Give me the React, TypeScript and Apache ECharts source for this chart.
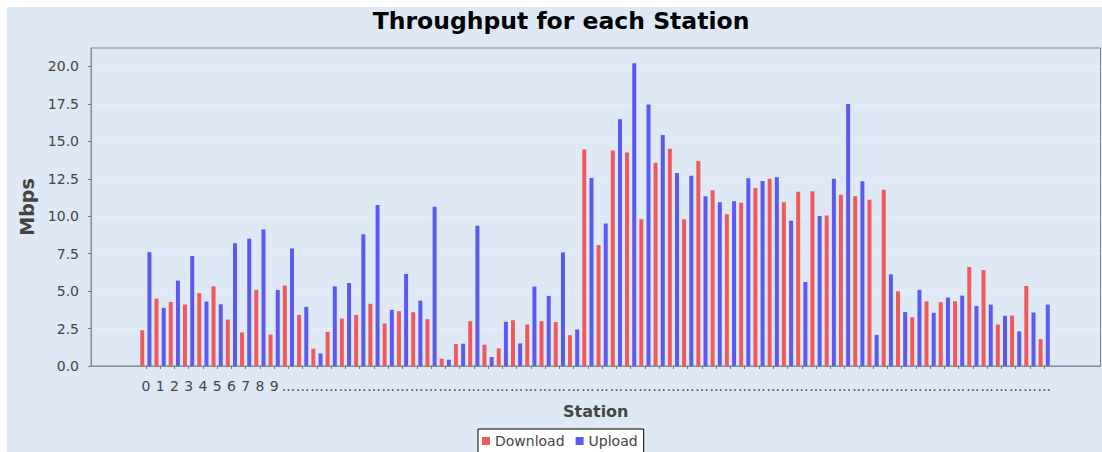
import React, { useEffect, useRef } from "react";
import * as echarts from "echarts";

const stations: string[] = Array.from({ length: 64 }, (_, i) => String(i));

const download: number[] = [
  2.39, 4.5, 4.28, 4.1, 4.86, 5.32, 3.1, 2.24, 5.08, 2.1,
  5.37, 3.41, 1.15, 2.28, 3.17, 3.41, 4.15, 2.84, 3.66, 3.59,
  3.13, 0.49, 1.46, 2.99, 1.42, 1.18, 3.06, 2.77, 2.99, 2.93,
  2.06, 14.46, 8.07, 14.39, 14.26, 9.8, 13.57, 14.5, 9.8, 13.68,
  11.73, 10.13, 10.9, 11.88, 12.5, 10.93, 11.64, 11.66, 10.04, 11.44,
  11.33, 11.1, 11.77, 4.99, 3.26, 4.32, 4.26, 4.32, 6.61, 6.41,
  2.77, 3.37, 5.34, 1.8,
];

const upload: number[] = [
  7.6, 3.88, 5.7, 7.34, 4.3, 4.12, 8.2, 8.5, 9.11, 5.08,
  7.85, 3.95, 0.84, 5.32, 5.54, 8.8, 10.75, 3.75, 6.14, 4.37,
  10.64, 0.42, 1.49, 9.36, 0.6, 2.95, 1.51, 5.3, 4.68, 7.58,
  2.44, 12.55, 9.51, 16.47, 20.22, 17.45, 15.43, 12.88, 12.7, 11.33,
  10.93, 11.0, 12.53, 12.35, 12.6, 9.69, 5.61, 10.02, 12.5, 17.49,
  12.33, 2.08, 6.12, 3.61, 5.08, 3.55, 4.57, 4.7, 4.01, 4.1,
  3.35, 2.31, 3.57, 4.1,
];

const yMax = 21.23;
const yInterval = 2.5;

const FONT = "DejaVu Sans";
const BG = "#dee9f5";

export default function App() {
  const ref = useRef<HTMLDivElement>(null);

  useEffect(() => {
    if (!ref.current) return;
    const chart = echarts.init(ref.current, undefined, { renderer: "svg" });
    chart.setOption({
      animation: false,
      backgroundColor: BG,
      textStyle: { fontFamily: FONT },
      title: {
        text: "Throughput for each Station",
        left: 554,
        textAlign: "center",
        top: 2,
        padding: 0,
        textStyle: { fontFamily: FONT, fontWeight: "bold", fontSize: 23.5, color: "#000" },
      },
      legend: {
        data: ["Download", "Upload"],
        left: 471,
        top: 422,
        orient: "horizontal",
        backgroundColor: "#ffffff",
        borderColor: "#000000",
        borderWidth: 1,
        borderRadius: 0,
        padding: [5, 6, 5, 4],
        itemWidth: 8,
        itemHeight: 8,
        itemGap: 11,
        icon: "rect",
        textStyle: { fontFamily: FONT, fontSize: 14, color: "#444" },
      },
      grid: [
        { left: 84, top: 41, right: 1.5, bottom: 86, show: true, borderColor: "#7f848a", borderWidth: 1, backgroundColor: "transparent" },
        { left: 131.7, top: 41, right: 50.7, bottom: 86, show: false },
      ],
      xAxis: [
        {
          type: "value",
          gridIndex: 0,
          min: 0,
          max: 1,
          offset: 5,
          name: "Station",
          nameLocation: "middle",
          nameGap: 32,
          nameTextStyle: { fontFamily: FONT, fontWeight: "bold", fontSize: 16, color: "#444" },
          axisLine: { show: true, lineStyle: { color: "#8a8f95", width: 1 } },
          axisTick: { show: false },
          axisLabel: { show: false },
          splitLine: { show: false },
        },
        {
          type: "category",
          gridIndex: 1,
          data: stations,
          offset: 5,
          axisLine: { show: false },
          axisTick: { show: true, alignWithLabel: true, length: 3, lineStyle: { color: "#777" } },
          axisLabel: {
            interval: 0,
            margin: 8,
            fontFamily: FONT,
            fontSize: 14,
            color: "#444",
            formatter: (v: string, i: number) => (i < 10 ? v : "..."),
          },
          splitLine: { show: false },
        },
      ],
      yAxis: [
        {
          type: "value",
          gridIndex: 0,
          min: 0,
          max: yMax,
          interval: yInterval,
          offset: 5,
          name: "Mbps",
          nameLocation: "middle",
          nameGap: 40,
          nameTextStyle: { fontFamily: FONT, fontWeight: "bold", fontSize: 19, color: "#444" },
          axisLine: { show: true, lineStyle: { color: "#8a8f95", width: 1 } },
          axisTick: { show: true, length: 3, lineStyle: { color: "#777" } },
          axisLabel: {
            showMaxLabel: false,
            margin: 7,
            fontFamily: FONT,
            fontSize: 14,
            color: "#444",
            formatter: (v: number) => v.toFixed(1),
          },
          splitLine: {
            show: true,
            showMinLine: false,
            showMaxLine: false,
            lineStyle: { color: "rgba(255,255,255,0.45)", type: [2, 2], width: 1 },
          },
        },
        { type: "value", gridIndex: 1, min: 0, max: yMax, show: false },
      ],
      series: [
        {
          name: "Download",
          type: "bar",
          xAxisIndex: 1,
          yAxisIndex: 1,
          data: download,
          barWidth: 4,
          barGap: "80%",
          itemStyle: { color: "#f25a5a" },
        },
        {
          name: "Upload",
          type: "bar",
          xAxisIndex: 1,
          yAxisIndex: 1,
          data: upload,
          barWidth: 4,
          barGap: "80%",
          itemStyle: { color: "#5a5af2" },
        },
      ],
    });
    return () => chart.dispose();
  }, []);

  return (
    <div
      ref={ref}
      style={{ position: "absolute", left: 7, top: 7, width: 1095, height: 445 }}
    />
  );
}
